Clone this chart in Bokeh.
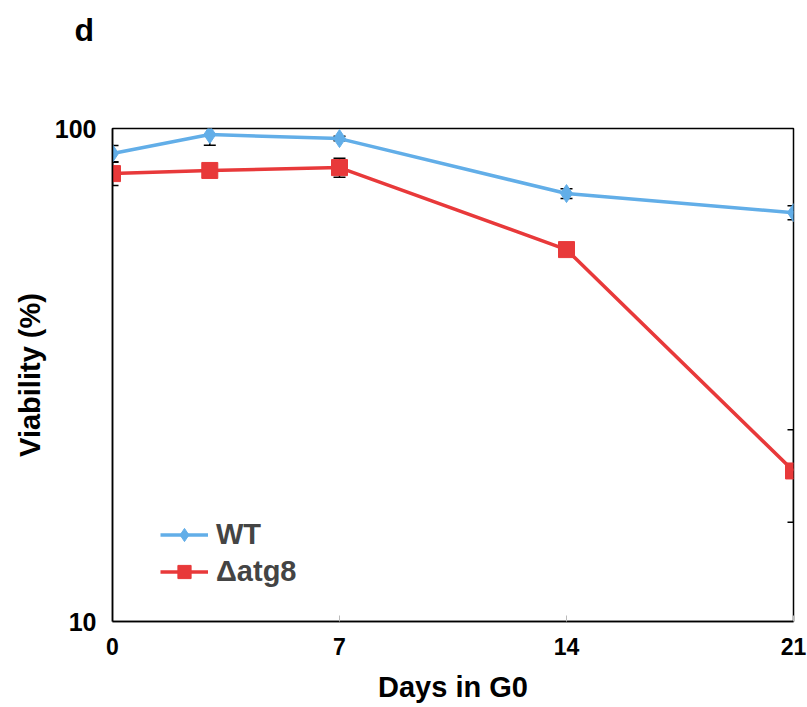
from bokeh.plotting import figure
from bokeh.models import (Range1d, FixedTicker, Whisker, TeeHead, ColumnDataSource,
                          Legend, LegendItem, BasicTickFormatter, Title)
from bokeh.embed import file_html
from bokeh.resources import INLINE

# ---- data ----
days = [0, 3, 7, 14, 21]
wt = [89.0, 97.2, 95.4, 73.8, 67.5]
wt_sd = [3.4, 4.7, 1.0, 1.7, 2.2]
atg8 = [81.0, 82.2, 83.3, 56.8, 20.2]
atg8_sd = [4.4, 1.0, 3.7, 0.8, 4.3]
x_ticks = [0, 7, 14, 21]
y_ticks = [10, 100]
series_names = ["WT", "\u0394atg8"]
panel_letter = "d"

BLUE = "#62AEE8"
RED = "#E8393A"
FONT = "Liberation Sans"

p = figure(width=807, height=707, y_axis_type="log",
           x_range=Range1d(0, 21), y_range=Range1d(10, 100),
           output_backend="svg", toolbar_location=None,
           min_border_left=112, min_border_right=14,
           min_border_top=128, min_border_bottom=86)
p.background_fill_color = "white"
p.border_fill_color = "white"
p.xgrid.visible = False
p.ygrid.visible = False
p.outline_line_color = "black"
p.outline_line_width = 1.5

src_wt = ColumnDataSource(dict(x=days, y=wt,
                               upper=[a + b for a, b in zip(wt, wt_sd)],
                               lower=[a - b for a, b in zip(wt, wt_sd)]))
src_at = ColumnDataSource(dict(x=days, y=atg8,
                               upper=[a + b for a, b in zip(atg8, atg8_sd)],
                               lower=[a - b for a, b in zip(atg8, atg8_sd)]))

l_wt = p.line("x", "y", source=src_wt, line_color=BLUE, line_width=3.5)
s_wt = p.scatter("x", "y", source=src_wt, marker="diamond", size=18,
                 fill_color=BLUE, line_color=BLUE)
l_at = p.line("x", "y", source=src_at, line_color=RED, line_width=3.5)
s_at = p.scatter("x", "y", source=src_at, marker="square", size=16,
                 fill_color=RED, line_color=RED)

for src in (src_wt, src_at):
    w = Whisker(base="x", upper="upper", lower="lower", source=src,
                dimension="height", line_color="black", line_width=1.5,
                upper_head=TeeHead(size=12, line_color="black", line_width=1.5),
                lower_head=TeeHead(size=12, line_color="black", line_width=1.5))
    p.add_layout(w)

# axes
p.xaxis.ticker = FixedTicker(ticks=x_ticks, minor_ticks=[])
p.yaxis.ticker = FixedTicker(ticks=y_ticks, minor_ticks=[])
p.yaxis.formatter = BasicTickFormatter()
for ax in (p.xaxis, p.yaxis):
    ax.axis_line_color = "black"
    ax.axis_line_width = 1.5
    ax.major_label_text_font = FONT
    ax.major_label_text_font_style = "bold"
    ax.major_label_text_color = "black"
    ax.axis_label_text_font = FONT
    ax.axis_label_text_font_style = "bold"
    ax.axis_label_text_font_size = "29px"
    ax.axis_label_text_color = "black"
    ax.minor_tick_line_color = None

p.xaxis.major_label_text_font_size = "23px"
p.yaxis.major_label_text_font_size = "25px"

p.xaxis.major_tick_in = 6
p.xaxis.major_tick_out = 0
p.xaxis.major_tick_line_color = "#bbbbbb"
p.xaxis.major_label_standoff = 16
p.xaxis.axis_label = "Days in G0"
p.xaxis.axis_label_standoff = 13

p.yaxis.major_tick_line_color = None
p.yaxis.major_tick_in = 0
p.yaxis.major_tick_out = 0
p.yaxis.major_label_standoff = 16
p.yaxis.axis_label = "Viability (%)"
p.yaxis.axis_label_standoff = 6

legend = Legend(items=[LegendItem(label=series_names[0], renderers=[l_wt, s_wt]),
                       LegendItem(label=series_names[1], renderers=[l_at, s_at])],
                location=(48, 33), border_line_color=None, background_fill_alpha=0,
                label_text_font=FONT, label_text_font_style="bold",
                label_text_font_size="29px", glyph_width=48, glyph_height=33,
                label_height=33, spacing=4, padding=0, margin=0, label_standoff=8)
p.add_layout(legend)

# spacer panel between frame and the panel letter
p.add_layout(Title(text=" ", text_font_size="1px", standoff=70), "above")

p.title = Title(text=panel_letter, align="left", offset=-38, standoff=16,
                text_font=FONT, text_font_style="bold", text_font_size="32px",
                text_color="black")

open("out.html", "w").write(file_html(p, INLINE))
